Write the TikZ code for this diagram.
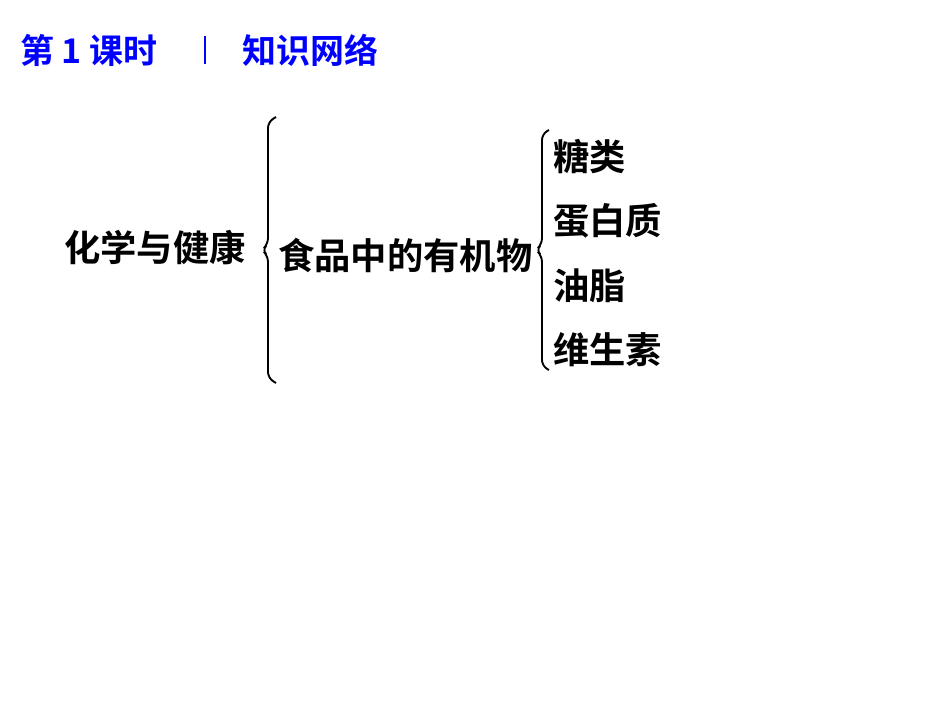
\documentclass[tikz,border=0pt]{standalone}
\usepackage{fontspec}
\newfontfamily\cjk{Noto Sans CJK SC}
\newfontfamily\cjkb{Noto Sans CJK SC Bold}
\begin{document}
\begin{tikzpicture}[x=0.03cm,y=-0.03cm,
  item/.style={font=\cjkb\fontsize{31}{32}\selectfont,anchor=west,inner sep=0pt},
  title/.style={font=\cjkb\fontsize{29}{30}\selectfont,text=blue,anchor=west,inner sep=0pt},
  br/.style={line width=1.6pt,rounded corners=5pt}]
\useasboundingbox[fill=white] (0,0) rectangle (950,713);
\node[title] (t) at (20,50) {第 1 课时};
\node[title] (t2) at (242,50) {知识网络};
\draw[blue,line width=2.5pt] (205,36) coordinate (s1) -- (205,64) coordinate (s2);
\node[item] (a) at (64,248) {化学与健康};
\node[item] (b) at (278,255) {食品中的有机物};
\node[item] (c1) at (553,157) {糖类};
\node[item] (c2) at (553,221) {蛋白质};
\node[item] (c3) at (553,286) {油脂};
\node[item] (c4) at (553,350) {维生素};
\draw[br] (276,117) -- (268,122) -- (268,244) -- (262,250) -- (268,256) -- (268,378) -- (276,383);
\draw[br] (549,130) -- (542,134) -- (542,244) -- (536,250) -- (542,256) -- (542,366) -- (549,370);
\end{tikzpicture}
\end{document}
